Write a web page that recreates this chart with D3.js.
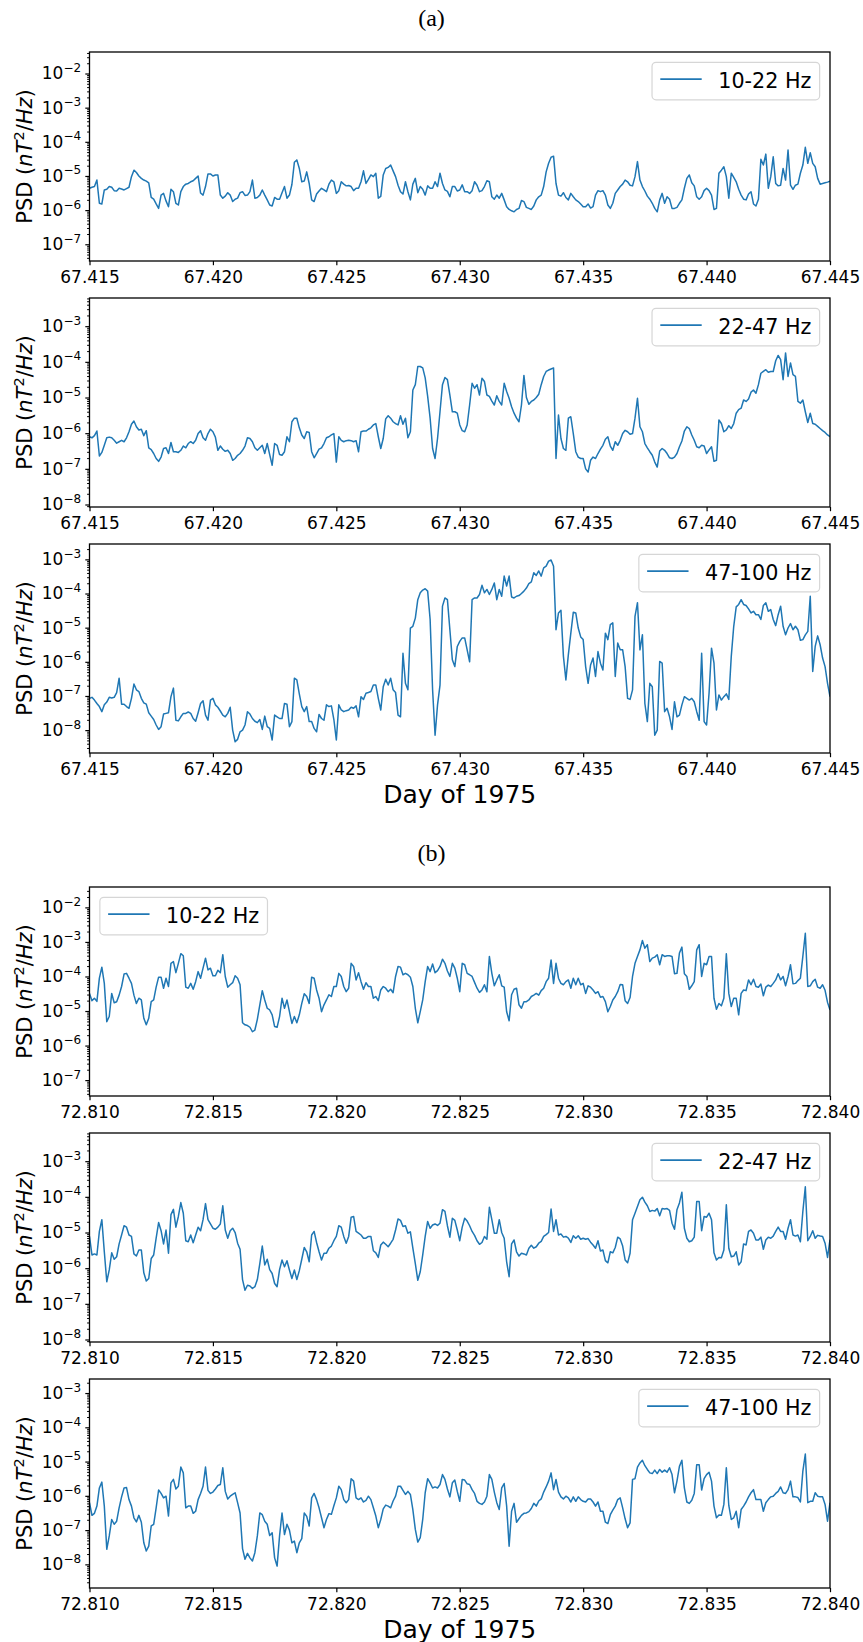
<!DOCTYPE html>
<html>
<head>
<meta charset="utf-8">
<script src="https://cdn.jsdelivr.net/npm/d3@7"></script>
<style>
  html, body { margin: 0; padding: 0; background: #fff; }
  svg { display: block; font-family: "DejaVu Sans", sans-serif; }
</style>
</head>
<body>
<svg id="chart" width="863" height="1642"></svg>
<script>
// sampling of both time windows (day of 1975)
const startA = 67.415
const startB = 72.810
const sampleStep = 0.0001
const sampleCount = 301

const ticksA = [67.415, 67.420, 67.425, 67.430, 67.435, 67.440, 67.445]
const ticksB = [72.810, 72.815, 72.820, 72.825, 72.830, 72.835, 72.840]
const bands = ["10-22 Hz", "22-47 Hz", "47-100 Hz"]

// y limits as log10(PSD)
const ylimsA = [[-7.49, -1.37], [-8.07, -2.21], [-8.67, -2.55]]
const ylimsB = [[-7.46, -1.41], [-8.07, -2.21], [-8.69, -2.59]]

// log10 PSD, window (a)
const logPsdA1 = [
  -5.36, -5.33, -5.31, -5.12, -5.80, -5.82, -5.41, -5.39, -5.31, -5.33,
  -5.43, -5.44, -5.36, -5.38, -5.41, -5.37, -5.33, -5.02, -4.83, -4.90,
  -5.00, -5.07, -5.12, -5.15, -5.20, -5.63, -5.68, -5.82, -5.95, -5.56,
  -5.51, -5.73, -5.90, -5.39, -5.46, -5.80, -5.85, -5.46, -5.31, -5.24,
  -5.22, -5.17, -5.14, -5.07, -5.00, -5.50, -5.56, -5.31, -4.94, -4.94,
  -5.00, -4.97, -4.97, -5.56, -5.65, -5.59, -5.49, -5.56, -5.75, -5.68,
  -5.65, -5.49, -5.46, -5.57, -5.56, -5.46, -5.12, -5.65, -5.63, -5.56,
  -5.41, -5.56, -5.70, -5.85, -5.88, -5.63, -5.68, -5.68, -5.49, -5.31,
  -5.65, -5.56, -5.25, -4.60, -4.53, -4.78, -5.17, -5.15, -4.88, -5.22,
  -5.70, -5.75, -5.53, -5.44, -5.36, -5.41, -5.46, -5.24, -5.12, -5.17,
  -5.51, -5.43, -5.17, -5.24, -5.29, -5.28, -5.31, -5.43, -5.36, -5.36,
  -5.17, -4.85, -5.22, -5.10, -4.97, -5.02, -4.92, -5.65, -5.60, -4.97,
  -4.78, -4.75, -4.68, -4.85, -5.02, -5.27, -5.46, -5.53, -5.17, -5.46,
  -5.70, -5.24, -5.07, -5.49, -5.31, -5.39, -5.56, -5.29, -5.36, -5.36,
  -5.17, -5.31, -4.92, -5.22, -5.41, -5.45, -5.61, -5.31, -5.31, -5.44,
  -5.41, -5.26, -5.46, -5.46, -5.51, -5.43, -5.17, -5.27, -5.46, -5.43,
  -5.31, -5.14, -5.17, -5.61, -5.68, -5.56, -5.65, -5.51, -5.70, -5.90,
  -5.98, -6.02, -6.05, -5.98, -5.95, -5.72, -5.75, -5.92, -5.95, -5.98,
  -5.88, -5.70, -5.61, -5.56, -5.31, -4.88, -4.63, -4.45, -4.42, -5.22,
  -5.56, -5.59, -5.49, -5.63, -5.70, -5.51, -5.61, -5.70, -5.75, -5.82,
  -5.90, -5.90, -5.82, -5.94, -5.90, -5.56, -5.43, -5.46, -5.43, -5.56,
  -5.85, -5.95, -5.80, -5.51, -5.41, -5.31, -5.24, -5.12, -5.17, -5.27,
  -5.29, -5.02, -4.58, -5.12, -5.31, -5.44, -5.59, -5.68, -5.80, -5.95,
  -6.05, -5.70, -5.51, -5.80, -5.61, -5.68, -5.95, -5.95, -5.92, -5.80,
  -5.70, -5.36, -5.07, -4.97, -5.20, -5.29, -5.61, -5.68, -5.61, -5.43,
  -5.36, -5.43, -5.56, -5.98, -5.95, -4.92, -4.83, -4.73, -5.02, -5.65,
  -4.92, -5.04, -5.17, -5.39, -5.56, -5.68, -5.70, -5.53, -5.46, -5.82,
  -5.88, -5.68, -4.51, -4.68, -4.36, -5.36, -5.02, -4.44, -5.22, -5.29,
  -5.27, -4.78, -5.12, -4.24, -5.27, -5.39, -5.27, -5.24, -4.92, -4.68,
  -4.16, -4.63, -4.32, -4.63, -4.73, -5.07, -5.24, -5.22, -5.20, -5.18,
  -5.15
]
const logPsdA2 = [
  -6.10, -6.13, -6.07, -5.94, -6.64, -6.54, -6.34, -6.13, -6.11, -6.13,
  -6.20, -6.28, -6.24, -6.20, -6.24, -6.13, -5.96, -5.75, -5.66, -5.82,
  -5.91, -5.89, -6.07, -5.93, -6.41, -6.46, -6.57, -6.71, -6.79, -6.67,
  -6.43, -6.41, -6.57, -6.26, -6.52, -6.52, -6.54, -6.48, -6.36, -6.41,
  -6.29, -6.24, -6.29, -6.20, -6.01, -5.93, -6.13, -6.20, -6.01, -5.89,
  -5.96, -6.11, -6.48, -6.36, -6.45, -6.51, -6.48, -6.57, -6.76, -6.71,
  -6.62, -6.57, -6.48, -6.36, -6.13, -6.15, -6.24, -6.41, -6.48, -6.41,
  -6.34, -6.57, -6.29, -6.60, -6.90, -6.29, -6.34, -6.60, -6.62, -6.52,
  -6.10, -6.24, -5.68, -5.58, -5.58, -5.85, -6.05, -6.15, -5.96, -5.98,
  -6.52, -6.69, -6.57, -6.45, -6.41, -6.29, -6.13, -6.10, -6.05, -6.01,
  -6.81, -6.10, -6.20, -6.24, -6.21, -6.20, -6.21, -6.24, -6.21, -6.52,
  -5.96, -5.94, -5.94, -5.89, -5.85, -5.77, -5.73, -6.10, -6.43, -6.15,
  -5.60, -5.51, -5.58, -5.68, -5.73, -5.77, -5.51, -5.75, -5.58, -6.13,
  -5.96, -4.79, -4.64, -4.13, -4.13, -4.17, -4.45, -4.97, -5.58, -6.43,
  -6.71, -6.15, -5.40, -4.64, -4.44, -4.50, -4.93, -5.40, -5.40, -5.44,
  -5.77, -5.93, -5.96, -5.77, -5.21, -4.60, -4.74, -4.64, -4.93, -4.46,
  -4.55, -4.93, -4.97, -5.10, -5.21, -4.95, -5.11, -5.21, -4.60, -4.83,
  -5.02, -5.26, -5.44, -5.58, -5.68, -5.21, -4.38, -5.00, -5.19, -5.11,
  -5.07, -5.00, -4.91, -4.64, -4.41, -4.27, -4.23, -4.20, -4.17, -6.71,
  -5.49, -6.15, -6.43, -6.48, -5.58, -5.54, -6.01, -6.52, -6.67, -6.71,
  -6.71, -7.00, -7.09, -6.76, -6.67, -6.71, -6.57, -6.45, -6.34, -6.17,
  -6.10, -6.36, -6.48, -6.24, -6.34, -6.20, -6.01, -5.92, -5.96, -6.03,
  -6.01, -5.58, -5.02, -5.82, -5.96, -6.29, -6.41, -6.52, -6.62, -6.81,
  -6.95, -6.50, -6.43, -6.48, -6.57, -6.69, -6.71, -6.67, -6.57, -6.38,
  -6.22, -5.94, -5.82, -5.87, -6.05, -6.20, -6.38, -6.41, -6.34, -6.36,
  -6.57, -6.47, -6.38, -6.79, -6.76, -5.63, -5.73, -5.96, -5.91, -5.79,
  -5.87, -5.73, -5.44, -5.34, -5.30, -5.07, -5.11, -5.04, -4.85, -4.79,
  -4.88, -4.64, -4.32, -4.27, -4.22, -4.29, -4.27, -4.27, -3.97, -3.82,
  -3.94, -4.50, -3.75, -4.41, -4.03, -4.36, -4.41, -5.11, -5.16, -5.07,
  -5.40, -5.70, -5.44, -5.73, -5.75, -5.81, -5.87, -5.93, -5.98, -6.05,
  -6.10
]
const logPsdA3 = [
  -7.07, -7.04, -7.12, -7.22, -7.31, -7.46, -7.26, -7.18, -7.04, -7.06,
  -7.04, -6.90, -6.48, -7.24, -7.24, -7.31, -7.36, -7.07, -6.65, -6.82,
  -6.87, -7.07, -7.20, -7.24, -7.49, -7.59, -7.69, -7.85, -7.98, -7.90,
  -7.53, -7.51, -7.49, -7.02, -6.77, -7.71, -7.73, -7.61, -7.51, -7.51,
  -7.47, -7.51, -7.66, -7.74, -7.49, -7.22, -7.14, -7.56, -7.71, -7.12,
  -7.07, -7.26, -7.33, -7.44, -7.56, -7.61, -7.51, -7.33, -8.00, -8.34,
  -8.27, -8.05, -8.00, -7.85, -7.46, -7.53, -7.66, -7.74, -7.78, -7.69,
  -7.98, -7.59, -7.90, -7.95, -8.29, -7.56, -7.61, -7.66, -7.66, -7.22,
  -7.24, -7.90, -7.75, -6.48, -6.53, -6.94, -7.31, -7.46, -7.31, -7.75,
  -7.75, -7.95, -8.05, -7.54, -7.66, -7.71, -7.26, -7.31, -7.29, -7.69,
  -8.29, -7.26, -7.41, -7.46, -7.43, -7.41, -7.33, -7.36, -7.29, -7.61,
  -7.02, -7.10, -6.92, -6.90, -6.87, -6.68, -6.68, -7.07, -7.41, -6.73,
  -6.51, -6.68, -6.48, -6.82, -6.90, -7.56, -7.61, -5.75, -6.63, -6.82,
  -5.01, -4.96, -4.72, -4.18, -3.98, -3.90, -3.86, -3.93, -4.76, -6.82,
  -8.15, -7.26, -6.68, -4.37, -4.13, -4.18, -5.06, -5.94, -6.14, -5.55,
  -5.40, -5.30, -5.30, -5.65, -6.00, -4.18, -4.13, -4.13, -4.03, -3.76,
  -3.98, -3.88, -4.03, -3.88, -3.69, -4.18, -3.88, -4.08, -3.49, -3.78,
  -3.49, -4.10, -4.13, -4.08, -4.06, -4.00, -3.93, -3.84, -3.71, -3.66,
  -3.39, -3.47, -3.34, -3.49, -3.25, -3.20, -3.05, -3.02, -3.20, -5.06,
  -4.57, -4.49, -5.84, -6.53, -5.79, -5.16, -4.55, -4.57, -5.01, -5.27,
  -5.35, -6.14, -6.63, -6.09, -5.89, -6.43, -5.70, -6.04, -6.24, -5.16,
  -5.35, -4.91, -4.86, -6.43, -5.45, -5.65, -5.65, -6.14, -7.07, -7.10,
  -6.82, -4.67, -4.27, -5.65, -5.21, -7.22, -7.75, -6.63, -6.73, -8.15,
  -8.00, -5.99, -6.04, -7.46, -7.36, -7.61, -7.98, -7.17, -7.61, -7.56,
  -7.26, -7.02, -7.07, -7.12, -7.07, -7.17, -7.46, -7.71, -5.75, -7.75,
  -7.85, -6.92, -5.60, -6.04, -7.41, -6.97, -7.12, -7.02, -6.94, -7.10,
  -5.84, -4.96, -4.39, -4.32, -4.18, -4.32, -4.35, -4.45, -4.57, -4.52,
  -4.62, -4.62, -4.76, -4.35, -4.27, -4.52, -4.47, -4.76, -4.94, -4.62,
  -4.37, -4.96, -5.21, -5.01, -4.88, -5.06, -4.96, -5.06, -5.37, -5.35,
  -5.21, -5.11, -4.08, -6.28, -5.55, -5.24, -5.50, -5.89, -6.14, -6.63,
  -7.02
]

// log10 PSD, window (b)
const logPsdB1 = [
  -4.49, -4.70, -4.63, -4.72, -4.05, -3.73, -4.20, -5.31, -5.16, -4.49,
  -4.76, -4.73, -4.54, -4.29, -3.93, -3.91, -4.05, -4.20, -4.54, -4.78,
  -4.63, -4.68, -5.21, -5.40, -5.21, -4.73, -4.68, -4.31, -4.02, -4.02,
  -4.34, -4.05, -4.29, -3.62, -3.57, -3.89, -3.62, -3.34, -3.40, -4.31,
  -4.34, -4.20, -4.37, -4.15, -3.86, -4.05, -3.76, -3.47, -3.81, -3.76,
  -3.98, -3.98, -3.82, -3.89, -3.37, -4.00, -4.31, -4.24, -4.18, -3.98,
  -4.05, -4.24, -5.34, -5.40, -5.42, -5.47, -5.60, -5.55, -5.24, -4.82,
  -4.41, -4.68, -4.92, -4.97, -5.11, -5.45, -5.47, -5.16, -4.63, -4.92,
  -4.68, -5.02, -5.36, -5.16, -5.34, -5.11, -4.78, -4.50, -4.58, -4.78,
  -4.02, -4.05, -4.39, -4.63, -5.02, -4.82, -4.68, -4.53, -4.58, -4.29,
  -4.29, -3.91, -4.00, -4.29, -4.44, -4.34, -3.62, -3.71, -4.10, -3.89,
  -4.15, -4.37, -4.18, -4.29, -4.29, -4.63, -4.58, -4.70, -4.39, -4.29,
  -4.34, -4.44, -4.37, -4.47, -4.00, -3.71, -3.73, -3.95, -3.91, -3.95,
  -4.02, -4.29, -4.92, -5.34, -5.02, -4.68, -4.15, -3.71, -3.86, -3.64,
  -3.89, -3.83, -3.71, -3.50, -3.62, -3.84, -4.00, -3.62, -3.76, -4.05,
  -4.44, -3.62, -3.66, -3.91, -3.95, -4.00, -4.17, -4.34, -4.46, -4.39,
  -4.24, -4.44, -3.42, -3.91, -4.27, -4.10, -3.95, -4.27, -4.31, -5.02,
  -5.28, -4.53, -4.37, -4.34, -4.82, -4.92, -4.73, -4.73, -4.68, -4.58,
  -4.54, -4.49, -4.54, -4.41, -4.34, -4.15, -4.05, -3.52, -4.20, -3.62,
  -4.05, -4.20, -4.24, -4.15, -4.10, -4.34, -4.05, -4.24, -4.05, -4.24,
  -4.20, -4.49, -4.27, -4.31, -4.39, -4.49, -4.44, -4.60, -4.58, -4.73,
  -5.02, -4.87, -4.68, -4.58, -4.44, -4.23, -4.24, -4.70, -4.78, -4.61,
  -4.00, -3.62, -3.42, -3.23, -2.96, -3.18, -3.08, -3.57, -3.47, -3.44,
  -3.37, -3.66, -3.37, -3.42, -3.40, -3.40, -3.42, -3.92, -3.91, -3.32,
  -3.15, -3.92, -4.00, -4.37, -4.27, -4.15, -3.23, -3.08, -4.00, -3.62,
  -3.66, -3.42, -3.42, -4.63, -4.95, -4.78, -4.85, -4.63, -3.34, -4.49,
  -4.87, -4.63, -4.63, -5.11, -4.49, -4.39, -4.41, -4.10, -4.24, -4.08,
  -4.29, -4.31, -4.22, -4.56, -4.31, -4.25, -4.29, -4.20, -4.10, -3.92,
  -4.10, -4.00, -4.27, -4.00, -3.66, -4.21, -4.20, -4.12, -4.05, -3.42,
  -2.75, -4.29, -4.27, -4.15, -4.08, -4.31, -4.34, -4.24, -4.40, -4.75,
  -4.97
]
const logPsdB2 = [
  -5.11, -5.63, -5.60, -5.63, -4.97, -4.64, -5.54, -6.38, -6.05, -5.57,
  -5.75, -5.68, -5.32, -5.07, -4.81, -4.85, -5.07, -5.11, -5.60, -5.66,
  -5.49, -5.49, -6.13, -6.36, -6.29, -5.73, -5.63, -5.16, -4.72, -4.95,
  -5.32, -4.93, -5.58, -4.50, -4.35, -4.85, -4.55, -4.16, -4.46, -5.23,
  -5.26, -5.07, -5.29, -5.07, -4.85, -4.95, -4.64, -4.19, -4.64, -4.76,
  -4.88, -4.91, -4.85, -4.76, -4.25, -4.93, -5.16, -4.95, -4.88, -5.00,
  -5.30, -5.47, -6.32, -6.62, -6.48, -6.50, -6.57, -6.52, -6.32, -5.87,
  -5.38, -5.91, -5.75, -6.04, -6.15, -6.43, -6.52, -6.04, -5.77, -5.96,
  -5.79, -6.05, -6.29, -6.05, -6.32, -6.07, -5.75, -5.42, -5.54, -5.82,
  -5.07, -4.97, -5.28, -5.54, -5.77, -5.58, -5.58, -5.44, -5.38, -5.23,
  -5.11, -4.81, -4.85, -5.11, -5.30, -5.11, -4.57, -4.55, -4.97, -5.02,
  -5.07, -5.16, -5.16, -5.11, -5.11, -5.51, -5.57, -5.70, -5.35, -5.27,
  -5.33, -5.40, -5.30, -5.19, -4.93, -4.62, -4.66, -4.83, -4.81, -5.02,
  -4.98, -5.44, -5.87, -6.34, -6.10, -5.63, -5.11, -4.69, -4.88, -4.79,
  -4.76, -4.80, -4.74, -4.36, -4.41, -4.81, -5.13, -4.60, -4.66, -4.93,
  -5.23, -4.85, -4.60, -4.68, -4.81, -4.97, -5.08, -5.23, -5.33, -5.28,
  -5.11, -5.19, -4.29, -4.64, -5.02, -5.02, -4.64, -5.00, -5.16, -5.82,
  -6.24, -5.32, -5.21, -5.54, -5.66, -5.58, -5.60, -5.63, -5.44, -5.36,
  -5.44, -5.40, -5.30, -5.25, -5.11, -5.06, -5.00, -4.34, -4.97, -4.64,
  -5.07, -5.04, -5.13, -5.11, -5.16, -5.28, -5.09, -5.16, -5.09, -5.19,
  -5.16, -5.19, -5.17, -5.27, -5.35, -5.44, -5.23, -5.52, -5.49, -5.79,
  -5.85, -5.54, -5.57, -5.42, -5.13, -5.18, -5.38, -5.77, -5.85, -5.58,
  -4.64, -4.46, -4.27, -4.08, -4.01, -4.15, -4.25, -4.41, -4.38, -4.40,
  -4.33, -4.53, -4.33, -4.34, -4.33, -4.38, -4.74, -4.91, -4.36, -4.17,
  -3.87, -4.88, -5.16, -5.26, -5.23, -5.13, -4.13, -4.13, -4.95, -4.55,
  -4.57, -4.46, -4.64, -5.57, -5.77, -5.70, -5.71, -5.49, -4.22, -5.44,
  -5.68, -5.66, -5.54, -5.91, -5.82, -5.32, -5.35, -4.97, -4.93, -5.02,
  -5.21, -5.21, -5.13, -5.47, -5.21, -5.13, -5.16, -5.10, -4.97, -4.85,
  -4.97, -4.97, -5.19, -4.88, -4.64, -5.07, -5.10, -5.07, -5.26, -4.41,
  -3.72, -5.23, -5.11, -4.95, -5.16, -5.08, -5.10, -5.11, -5.30, -5.70,
  -5.20
]
const logPsdB3 = [
  -6.20, -6.57, -6.51, -6.30, -5.77, -5.60, -6.30, -7.56, -7.17, -6.69,
  -6.83, -6.74, -6.35, -6.03, -5.77, -5.76, -6.11, -6.30, -6.64, -6.76,
  -6.57, -6.77, -7.37, -7.61, -7.47, -6.88, -6.83, -6.35, -5.83, -5.93,
  -6.06, -6.01, -6.59, -5.62, -5.52, -5.80, -5.72, -5.16, -5.33, -6.35,
  -6.30, -6.30, -6.51, -6.45, -6.11, -5.93, -5.72, -5.16, -5.84, -5.93,
  -5.89, -5.80, -5.70, -5.67, -5.18, -5.87, -6.09, -6.01, -5.96, -5.91,
  -6.20, -6.50, -7.54, -7.85, -7.68, -7.81, -7.90, -7.66, -7.17, -6.50,
  -6.55, -6.74, -6.83, -7.16, -7.08, -7.81, -8.05, -7.17, -6.50, -7.13,
  -6.83, -7.00, -7.37, -7.32, -7.66, -7.37, -7.25, -6.50, -6.60, -6.88,
  -6.06, -5.93, -6.11, -6.35, -6.64, -6.93, -6.69, -6.52, -6.54, -6.29,
  -6.06, -5.72, -5.82, -6.11, -6.20, -6.11, -5.50, -5.57, -6.06, -6.11,
  -6.06, -6.18, -6.13, -6.01, -6.11, -6.35, -6.59, -6.93, -6.69, -6.38,
  -6.27, -6.30, -6.35, -6.15, -6.01, -5.72, -5.72, -5.84, -5.96, -5.87,
  -5.96, -6.40, -6.98, -7.35, -7.22, -6.69, -5.91, -5.50, -5.62, -5.77,
  -5.74, -5.77, -5.67, -5.38, -5.52, -5.80, -6.03, -5.62, -5.54, -5.87,
  -6.16, -5.52, -5.54, -5.65, -5.67, -5.82, -5.93, -6.16, -6.22, -6.25,
  -6.18, -6.01, -5.38, -5.52, -5.89, -6.20, -6.40, -5.77, -5.64, -6.30,
  -7.47, -6.45, -6.22, -6.77, -6.67, -6.57, -6.51, -6.50, -6.46, -6.37,
  -6.22, -6.30, -6.15, -6.09, -5.89, -5.74, -5.57, -5.33, -5.82, -5.52,
  -5.89, -6.03, -6.09, -6.01, -6.06, -6.18, -6.03, -6.16, -6.03, -6.11,
  -6.16, -6.18, -6.09, -6.09, -6.18, -6.30, -6.18, -6.45, -6.45, -6.77,
  -6.81, -6.55, -6.42, -6.30, -6.11, -6.06, -6.35, -6.67, -6.93, -6.79,
  -5.52, -5.50, -5.16, -5.04, -4.96, -5.12, -5.23, -5.33, -5.35, -5.25,
  -5.35, -5.23, -5.31, -5.25, -5.31, -5.18, -5.38, -5.91, -5.57, -5.14,
  -4.96, -5.77, -6.18, -6.22, -6.13, -5.93, -5.09, -5.09, -5.83, -5.50,
  -5.38, -5.31, -5.57, -6.30, -6.64, -6.56, -6.57, -6.25, -5.18, -6.28,
  -6.69, -6.64, -6.45, -6.93, -6.40, -6.30, -6.18, -6.03, -5.91, -5.82,
  -6.11, -6.11, -6.11, -6.45, -6.20, -6.11, -6.03, -6.01, -5.93, -5.87,
  -5.74, -5.91, -5.93, -5.82, -5.57, -6.03, -6.03, -6.05, -6.18, -5.28,
  -4.78, -6.20, -6.16, -6.16, -5.91, -6.01, -6.03, -6.03, -6.25, -6.74,
  -6.20
]

const daysA = d3.range(sampleCount).map(i => startA + i * sampleStep)
const daysB = d3.range(sampleCount).map(i => startB + i * sampleStep)

const svg = d3.select("#chart")
const left = 89.5, right = 830, panelH = 209
const tickFont = 17, legendFont = 20.7

const figures = [
  { caption: "(a)", captionY: 26, xlabelY: 803, tops: [52, 298, 544],
    days: daysA, ticks: ticksA, ylims: ylimsA,
    series: [logPsdA1, logPsdA2, logPsdA3], legendSide: ["right", "right", "right"] },
  { caption: "(b)", captionY: 861, xlabelY: 1637.5, tops: [887, 1133, 1379],
    days: daysB, ticks: ticksB, ylims: ylimsB,
    series: [logPsdB1, logPsdB2, logPsdB3], legendSide: ["left", "right", "right"] }
]

let panelId = 0

function drawPanel(top, days, values, ylim, ticks, band, side) {
  const id = panelId++
  const g = svg.append("g")

  const x = d3.scaleLinear()
    .domain([ticks[0], ticks[ticks.length - 1]])
    .range([left, right])
  const y = d3.scaleLog()
    .domain([10 ** ylim[0], 10 ** ylim[1]])
    .range([top + panelH, top])

  g.append("clipPath").attr("id", "clip" + id)
    .append("rect")
    .attr("x", left).attr("y", top)
    .attr("width", right - left).attr("height", panelH)

  const line = d3.line()
    .x(d => x(d[0]))
    .y(d => y(10 ** d[1]))

  g.append("path")
    .datum(days.map((t, i) => [t, values[i]]))
    .attr("clip-path", `url(#clip${id})`)
    .attr("fill", "none")
    .attr("stroke", "#1f77b4")
    .attr("stroke-width", 1.5)
    .attr("stroke-linejoin", "round")
    .attr("d", line)

  // log ticks: decades plus 2..9 minors
  const lo = Math.ceil(ylim[0]), hi = Math.floor(ylim[1])
  const majors = d3.range(lo, hi + 1).map(k => 10 ** k)
  const minors = []
  for (let k = Math.floor(ylim[0]); k <= hi; k++) {
    for (let m = 2; m <= 9; m++) {
      const v = m * 10 ** k
      if (v >= y.domain()[0] && v <= y.domain()[1]) minors.push(v)
    }
  }

  const yMinor = g.append("g")
    .attr("transform", `translate(${left},0)`)
    .call(d3.axisLeft(y).tickValues(minors).tickSize(2.4).tickFormat(""))
  yMinor.select(".domain").remove()
  yMinor.selectAll("line").attr("stroke-width", 1)

  const yAx = g.append("g")
    .attr("transform", `translate(${left},0)`)
    .call(d3.axisLeft(y).tickValues(majors).tickSize(4.2).tickPadding(4.2).tickFormat(""))
    .attr("font-family", "DejaVu Sans")
    .attr("font-size", tickFont)
  yAx.select(".domain").remove()
  yAx.selectAll("line").attr("stroke-width", 1.2)
  yAx.selectAll(".tick text").each(function (d) {
    const t = d3.select(this).attr("fill", "#000")
    t.append("tspan").text("10")
    t.append("tspan")
      .attr("font-size", 12)
      .attr("dy", -7.5)
      .text("\u2212" + Math.round(-Math.log10(d)))
  })

  const xAx = g.append("g")
    .attr("transform", `translate(0,${top + panelH})`)
    .call(d3.axisBottom(x).tickValues(ticks).tickSize(4.2).tickPadding(5.8).tickFormat(d3.format(".3f")))
    .attr("font-family", "DejaVu Sans")
    .attr("font-size", tickFont)
  xAx.select(".domain").remove()
  xAx.selectAll("line").attr("stroke-width", 1.2)
  xAx.selectAll("text").attr("fill", "#000")

  // frame
  g.append("rect")
    .attr("x", left).attr("y", top)
    .attr("width", right - left).attr("height", panelH)
    .attr("fill", "none")
    .attr("stroke", "#000")
    .attr("stroke-width", 1.3)

  // legend
  const fs = legendFont
  const lg = g.append("g")
  const frame = lg.append("rect")
  const label = lg.append("text")
    .attr("font-size", fs)
    .attr("fill", "#000")
    .text(band)
  const tw = label.node().getComputedTextLength()
  const boxW = 0.4 * fs + 2 * fs + 0.8 * fs + tw + 0.4 * fs
  const boxH = 37.5
  const boxX = side === "left" ? left + 0.5 * fs : right - 0.5 * fs - boxW
  const boxY = top + 0.5 * fs
  frame
    .attr("x", boxX).attr("y", boxY)
    .attr("width", boxW).attr("height", boxH)
    .attr("rx", 4)
    .attr("fill", "#fff")
    .attr("fill-opacity", 0.8)
    .attr("stroke", "#d6d6d6")
    .attr("stroke-width", 1.2)
  lg.append("line")
    .attr("x1", boxX + 0.4 * fs).attr("x2", boxX + 2.4 * fs)
    .attr("y1", boxY + 16.8).attr("y2", boxY + 16.8)
    .attr("stroke", "#1f77b4")
    .attr("stroke-width", 1.6)
  label.attr("x", boxX + 3.2 * fs).attr("y", boxY + 26)

  // y label
  const yl = g.append("text")
    .attr("transform", `translate(32,${top + panelH / 2}) rotate(-90)`)
    .attr("text-anchor", "middle")
    .attr("font-size", 21)
    .attr("fill", "#000")
  yl.append("tspan").text("PSD (")
  yl.append("tspan").attr("font-style", "italic").text("nT")
  yl.append("tspan").attr("font-size", 14.5).attr("dy", -8).text("2")
  yl.append("tspan").attr("dy", 8).text("/")
  yl.append("tspan").attr("font-style", "italic").text("Hz")
  yl.append("tspan").text(")")
}

figures.forEach(f => {
  svg.append("text")
    .attr("x", 431.5)
    .attr("y", f.captionY)
    .attr("text-anchor", "middle")
    .attr("font-family", "Liberation Serif, serif")
    .attr("font-size", 24)
    .attr("fill", "#000")
    .text(f.caption)

  f.tops.forEach((top, i) => {
    drawPanel(top, f.days, f.series[i], f.ylims[i], f.ticks, bands[i], f.legendSide[i])
  })

  svg.append("text")
    .attr("x", (left + right) / 2)
    .attr("y", f.xlabelY)
    .attr("text-anchor", "middle")
    .attr("font-size", 25)
    .attr("fill", "#000")
    .text("Day of 1975")
})
</script>
</body>
</html>
